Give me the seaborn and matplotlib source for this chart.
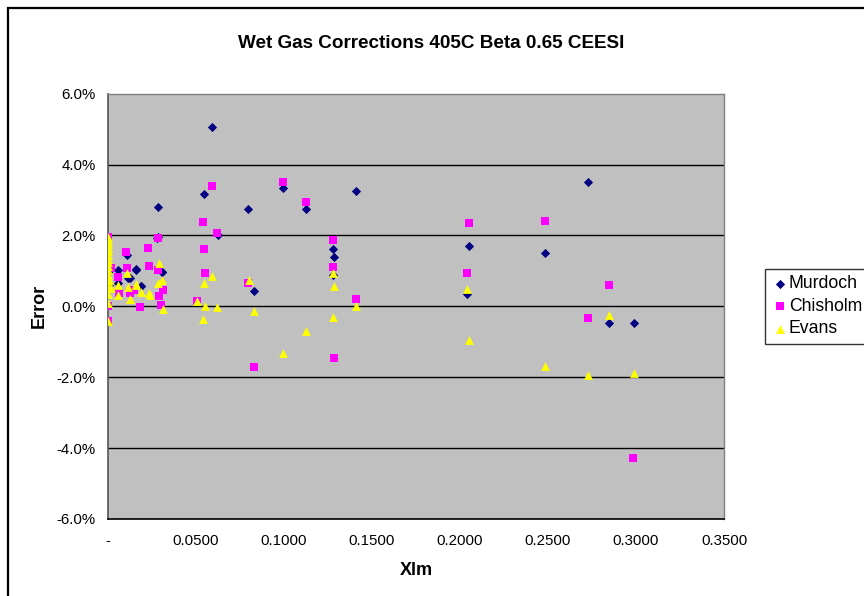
import numpy as np
import pandas as pd
import matplotlib
matplotlib.use("Agg")
import matplotlib.pyplot as plt
import matplotlib.ticker as mticker
from matplotlib.patches import Rectangle
import seaborn as sns

# ---- data ----
series_names = ["Murdoch", "Chisholm", "Evans"]

murdoch_x = [0.0593, 0.0547, 0.0286, 0.0284, 0.0277, 0.0159, 0.0309, 0.0125, 0.0186,
             0.0797, 0.0994, 0.1127, 0.1411, 0.1278, 0.1286, 0.1278, 0.0831, 0.0625,
             0.0106, 0.0059, 0.0159, 0.0115, 0.0188, 0.0059, 0.0305, 0.0003, 0.0003,
             0.2040, 0.2051, 0.2481, 0.2727, 0.2847, 0.2987]
murdoch_y = [5.07, 3.18, 2.81, 1.97, 1.92, 1.04, 0.98, 0.80, 0.58,
             2.76, 3.33, 2.75, 3.26, 1.63, 1.39, 0.88, 0.42, 2.02,
             1.45, 1.03, 1.03, 0.79, 0.58, 0.65, 0.98, 1.00, 0.60,
             0.34, 1.71, 1.51, 3.50, -0.47, -0.48]

chisholm_x = [0.0994, 0.1127, 0.1278, 0.1278, 0.1286, 0.1411, 0.2051, 0.2040, 0.2483,
              0.2727, 0.2847, 0.2985, 0.0593, 0.0538, 0.0619, 0.0545, 0.0553, 0.0506,
              0.0797, 0.0831, 0.0284, 0.0227, 0.0235, 0.0282, 0.0314, 0.0303, 0.0182,
              0.0288, 0.0148, 0.0104, 0.0110, 0.0057, 0.0019, 0.0060, 0.0125, 0.0002,
              0.0002, 0.0002]
chisholm_y = [3.51, 2.95, 1.86, 1.10, -1.45, 0.21, 2.35, 0.93, 2.42,
              -0.34, 0.59, -4.29, 3.40, 2.37, 2.07, 1.62, 0.93, 0.15,
              0.65, -1.72, 1.93, 1.65, 1.15, 1.02, 0.45, 0.05, -0.02,
              0.29, 0.46, 1.54, 1.07, 0.84, 1.07, 0.37, 0.37, 1.95,
              0.02, -0.40]

evans_x = [0.0002, 0.0002, 0.0002, 0.0002, 0.0002, 0.0002, 0.0002, 0.0002, 0.0002,
           0.0002, 0.0002, 0.0002, 0.0002, 0.0002, 0.0002, 0.0002,
           0.0106, 0.0006, 0.0019, 0.0057, 0.0057, 0.0114, 0.0125, 0.0161, 0.0186,
           0.0231, 0.0239, 0.0288, 0.0309, 0.0284, 0.0312, 0.0159, 0.0125,
           0.0593, 0.0545, 0.0506, 0.0553, 0.0619, 0.0538, 0.0799, 0.0831, 0.0994,
           0.1127, 0.1278, 0.1286, 0.1278, 0.1411, 0.2040, 0.2051, 0.2481, 0.2727,
           0.2847, 0.2987]
evans_y = [1.95, 1.85, 1.75, 1.65, 1.55, 1.45, 1.35, 1.25, 1.15,
           1.02, 0.88, 0.72, 0.56, 0.36, 0.10, -0.42,
           0.93, 0.74, 0.51, 0.60, 0.32, 0.56, 0.21, 0.60, 0.41,
           0.39, 0.32, 1.22, 0.75, 0.65, -0.08, 0.62, 0.20,
           0.87, 0.67, 0.15, 0.01, -0.02, -0.36, 0.74, -0.14, -1.32,
           -0.69, 0.93, 0.57, -0.31, 0.00, 0.48, -0.96, -1.68, -1.94,
           -0.24, -1.89]

x_ticks = [0.0, 0.05, 0.10, 0.15, 0.20, 0.25, 0.30, 0.35]
y_ticks = [-6, -4, -2, 0, 2, 4, 6]

frames = []
for name, xs, ys in [("Murdoch", murdoch_x, murdoch_y),
                     ("Chisholm", chisholm_x, chisholm_y),
                     ("Evans", evans_x, evans_y)]:
    frames.append(pd.DataFrame({"Xlm": xs, "Error": np.array(ys) / 100.0, "Series": name}))
df = pd.concat(frames, ignore_index=True)

# ---- plot ----
sns.set_theme(style="white")
plt.rcParams["font.family"] = ["Liberation Sans", "DejaVu Sans"]
plt.rcParams["text.color"] = "black"
plt.rcParams["axes.labelcolor"] = "black"
plt.rcParams["xtick.color"] = "black"
plt.rcParams["ytick.color"] = "black"

fig = plt.figure(figsize=(8.64, 5.96), dpi=100)
ax = fig.add_axes([108 / 864, 1 - 519 / 596, 616 / 864, 425.3 / 596])
ax.set_facecolor("#C0C0C0")

palette = {"Murdoch": "#000080", "Chisholm": "#FF00FF", "Evans": "#FFFF00"}
markers = {"Murdoch": "D", "Chisholm": "s", "Evans": "^"}
sizes_pts = {"Murdoch": 22, "Chisholm": 36, "Evans": 40}
for name in series_names:
    sub = df[df["Series"] == name]
    sns.scatterplot(data=sub, x="Xlm", y="Error", color=palette[name],
                    marker=markers[name], s=sizes_pts[name], linewidth=0,
                    ax=ax, label=name, zorder=3)

ax.set_xlim(0, 0.35)
ax.set_ylim(-0.06, 0.06)
ax.set_xticks(x_ticks)
ax.set_yticks(np.array(y_ticks) / 100.0)
ax.xaxis.set_major_formatter(mticker.FuncFormatter(lambda v, p: "-" if abs(v) < 1e-12 else f"{v:.4f}"))
ax.yaxis.set_major_formatter(mticker.FuncFormatter(lambda v, p: f"{v*100:.1f}%"))
ax.tick_params(axis="both", direction="out", length=4, width=1, color="black",
               labelsize=10.8, pad=5, labelcolor="black")
ax.tick_params(axis="x", pad=7)
ax.grid(False)
for yv in y_ticks[1:-1]:
    ax.axhline(yv / 100.0, color="black", lw=1, zorder=1)

for side in ["top", "right"]:
    ax.spines[side].set_color("#808080")
    ax.spines[side].set_linewidth(1)
ax.spines["left"].set_color("#555555")
ax.spines["bottom"].set_color("black")
ax.spines["left"].set_linewidth(1.2)
ax.spines["bottom"].set_linewidth(1.2)

ax.set_xlabel("Xlm", fontsize=13, fontweight="bold", labelpad=10, color="black")
ax.set_ylabel("Error", fontsize=13, fontweight="bold", labelpad=6, color="black")
fig.text(431 / 864, 1 - 44 / 596, "Wet Gas Corrections 405C Beta 0.65 CEESI",
         ha="center", va="center", fontsize=13.6, fontweight="bold", color="black")

leg = ax.legend(loc="upper left", bbox_to_anchor=(765 / 864, 1 - 269 / 596),
                bbox_transform=fig.transFigure, frameon=True, fancybox=False,
                edgecolor="black", fontsize=12.7, handletextpad=0.0,
                borderpad=0.35, labelspacing=0.32, handlelength=1.0,
                borderaxespad=0, markerscale=1.0)
leg.get_frame().set_linewidth(1)
for t in leg.get_texts():
    t.set_color("black")

fig.patches.append(Rectangle((8 / 864, -0.05), 1.2, 1 - 8 / 596 + 0.05,
                             transform=fig.transFigure, fill=False,
                             edgecolor="black", linewidth=1.6))

fig.savefig("out.png", dpi=100)
